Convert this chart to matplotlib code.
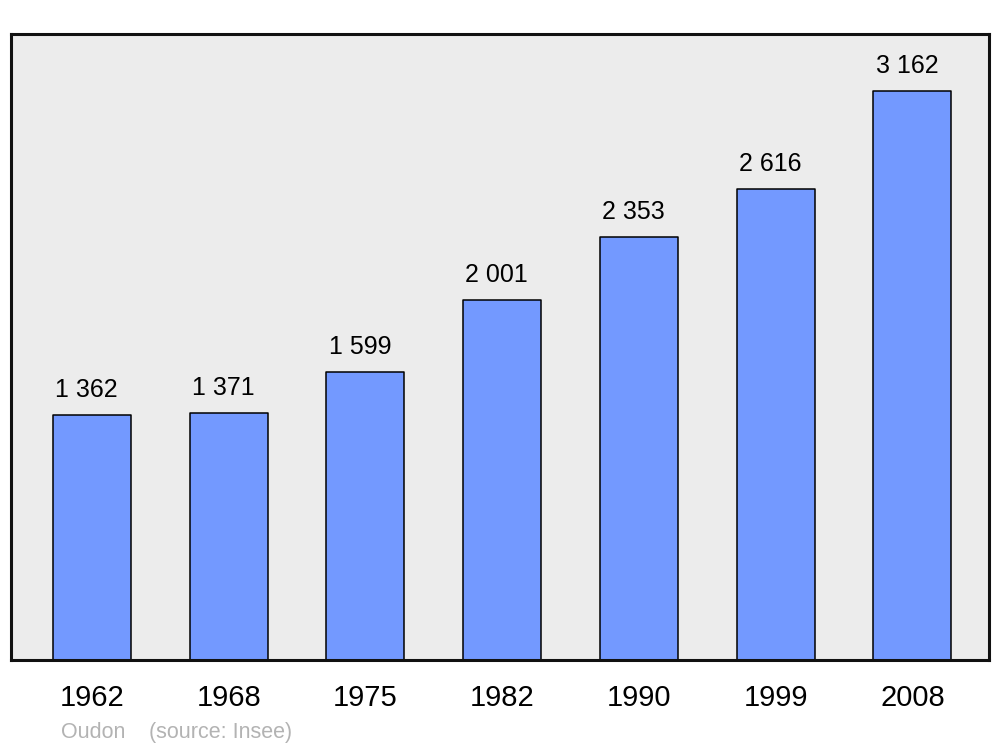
import matplotlib.pyplot as plt

plt.rcParams['font.family'] = ['Liberation Sans', 'DejaVu Sans']

years = ['1962', '1968', '1975', '1982', '1990', '1999', '2008']
population = [1362, 1371, 1599, 2001, 2353, 2616, 3162]
value_labels = ['1 362', '1 371', '1 599', '2 001', '2 353', '2 616', '3 162']

fig = plt.figure(figsize=(10, 7.47), dpi=100)
fig.patch.set_facecolor('white')
ax = fig.add_axes([0.011, 0.1165, 0.978, 0.838])
ax.set_facecolor('#ececec')

x = list(range(len(years)))
bars = ax.bar(x, population, width=0.57, color='#7399ff', edgecolor='black',
              linewidth=1.1, zorder=2)
for b in bars:
    b.set_joinstyle('round')

for xi, v, lab in zip(x, population, value_labels):
    ax.annotate(lab, (xi - 0.04, v), xytext=(0, 13), textcoords='offset points',
                ha='center', va='baseline', fontsize=18, color='black')

ax.set_xlim(-0.592, 6.56)
ax.set_ylim(0, 3480)
ax.set_xticks(x)
ax.set_xticklabels(years, fontsize=21)
ax.tick_params(axis='x', length=0, pad=17)
ax.set_yticks([])

for spine in ax.spines.values():
    spine.set_linewidth(2.2)
    spine.set_color('#111111')
    spine.set_joinstyle('round')

fig.text(0.061, 1 - 738 / 747, 'Oudon', fontsize=15.5, color='#b3b3b3',
         ha='left', va='baseline')
fig.text(0.149, 1 - 738 / 747, '(source: Insee)', fontsize=15.5, color='#b3b3b3',
         ha='left', va='baseline')

fig.savefig('out.png', dpi=100, facecolor='white')
